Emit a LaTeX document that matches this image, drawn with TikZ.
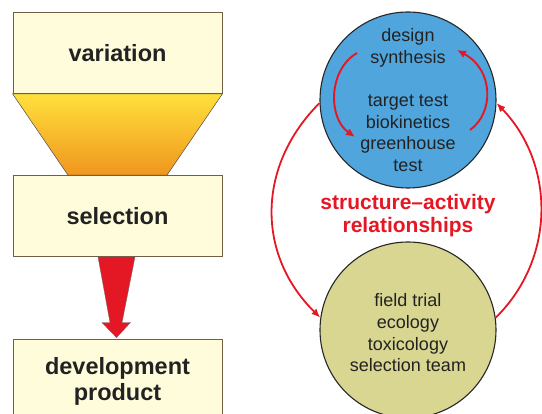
\documentclass[tikz,border=0pt]{standalone}
\usepackage{fontspec}
\setmainfont{Liberation Sans}
\usetikzlibrary{arrows.meta,calc}
\definecolor{boxfill}{RGB}{255,252,220}
\definecolor{boxline}{RGB}{110,95,70}
\definecolor{funneltop}{RGB}{255,224,60}
\definecolor{funnelbot}{RGB}{240,150,30}
\definecolor{arrowred}{RGB}{228,24,36}
\definecolor{bluefill}{RGB}{80,165,220}
\definecolor{greenfill}{RGB}{216,214,145}
\definecolor{inktext}{RGB}{34,34,34}
\tikzset{
  stagebox/.style={draw=boxline, line width=0.8pt, fill=boxfill,
    minimum width=209pt, minimum height=81pt, inner sep=0pt,
    align=center, text=inktext,
    font=\fontsize{23.5}{26}\selectfont\bfseries},
  bubble/.style={circle, draw=black!85, line width=1.1pt,
    minimum size=176pt, inner sep=0pt, align=center, text=inktext,
    font=\fontsize{18}{21.7}\selectfont},
  loop/.style={draw=arrowred, line width=1.8pt,
    -{Latex[length=9pt,width=7.5pt]}},
  cycle/.style={draw=arrowred, line width=1.9pt,
    -{Latex[length=9pt,width=8pt]}},
}
\begin{document}
\begin{tikzpicture}[x=1pt,y=-1pt]
\useasboundingbox (0,0) rectangle (542,414);
\clip (0,0) rectangle (542,414);

% funnel column
\node[stagebox] (var) at (117.5,53) {variation};
\node[stagebox] (sel) at (117.5,216) {selection};
\node[stagebox, minimum height=84pt] (dev) at (117.5,381) {development\\product};

\shade[top color=funneltop, bottom color=funnelbot, draw=black!70, line width=0.5pt]
  (var.south west) -- (var.south east)
  -- ($(sel.north)+(49.5,0)$) -- ($(sel.north)+(-49.5,0)$) -- cycle;
\draw[boxline, line width=0.8pt] (var.south west) -- (var.south east);
\draw[boxline, line width=0.8pt] (sel.north west) -- (sel.north east);

% tapered arrow from selection to development
\fill[arrowred, draw=black!60, line width=0.3pt]
  ($(sel.south)+(-19.5,0)$) -- ($(sel.south)+(17.5,0)$)
  -- ($(dev.north)+(4.5,-16)$) -- ($(dev.north)+(13,-16)$)
  -- ($(dev.north)+(-1,-1)$)
  -- ($(dev.north)+(-15.5,-16)$) -- ($(dev.north)+(-7.5,-16)$) -- cycle;

% research cycle
\node[bubble, fill=bluefill] (lab) at (408,100)
  {design\\synthesis\\[21.7pt]target test\\biokinetics\\greenhouse\\test};
\node[bubble, fill=greenfill] (field) at (408,330)
  {\rule{0pt}{19pt}field trial\\ecology\\toxicology\\selection team};
\node[text=arrowred, align=center,
  font=\fontsize{21}{23}\selectfont\bfseries] (sar) at (408,216)
  {structure–activity\\relationships};

\draw[loop] (lab.182) .. controls +(-63,63) and +(-64,-63) .. (field.172);
\draw[loop] (field.8) .. controls +(61,-60) and +(58,60) .. (lab.358);

\coordinate (inA) at (357,53);
\coordinate (inB) at (355,137);
\coordinate (inC) at (470,130);
\coordinate (inD) at (457,50);
\draw[cycle] (inA) .. controls +(-29,17) and +(-27,-19) .. (inB);
\draw[cycle] (inC) .. controls +(24,-17) and +(37,20) .. (inD);
\end{tikzpicture}
\end{document}
